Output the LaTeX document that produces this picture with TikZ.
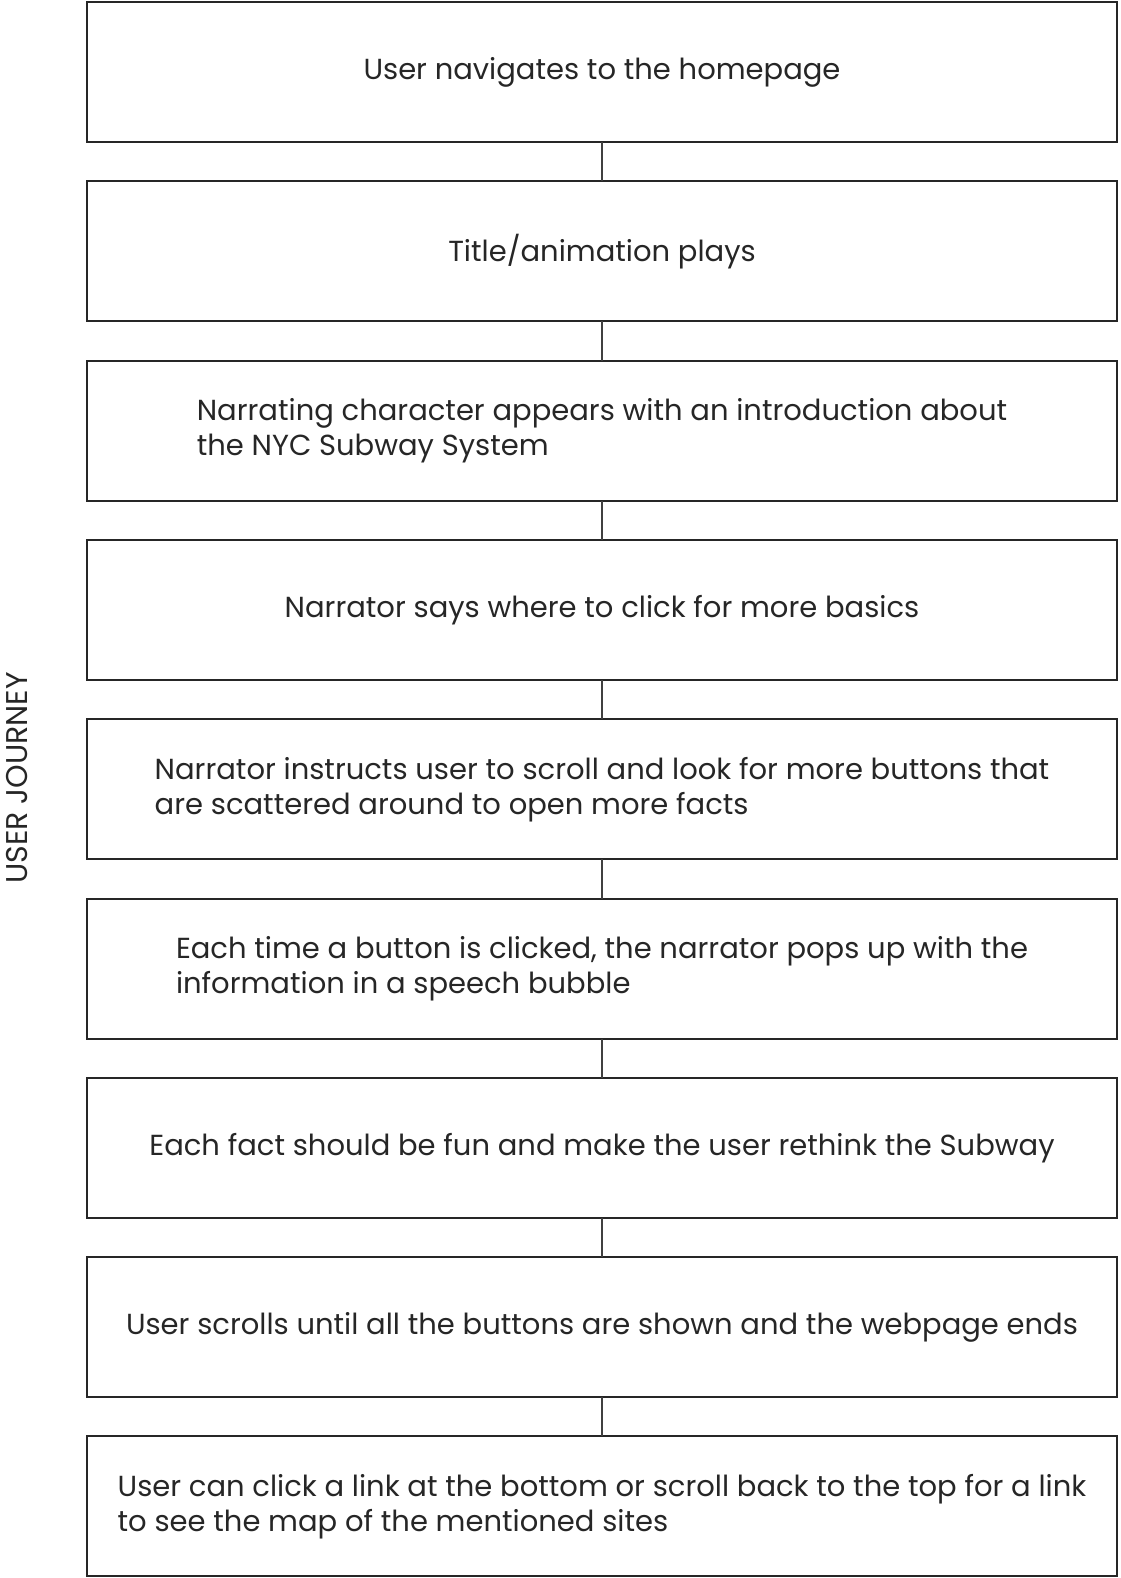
\documentclass[tikz,border=0pt]{standalone}
\usepackage{fontspec}
\setmainfont{Poppins}
\usepackage{tikz}
\usetikzlibrary{positioning}

\tikzset{
    stepbox/.style={draw=black!85, line width=1pt, outer sep=0pt, minimum width=515pt, minimum height=70pt, inner sep=0pt, align=left, text=black!85, font=\fontsize{14.5}{17.5}\selectfont},
    link/.style={draw=black!75, line width=0.75pt}
}

\begin{document}
\begin{tikzpicture}[x=0.5pt, y=-0.5pt]
        % Sayfa sinirlari
        \useasboundingbox (0,0) rectangle (1120,1578);

        % Kutular
        \node[stepbox] (s1) at (602,72) {User navigates to the homepage};
        \node[stepbox, below=19.65pt of s1] (s2) {Title/animation plays};
        \node[stepbox, below=19.65pt of s2] (s3) {Narrating character appears with an introduction about\\the NYC Subway System};
        \node[stepbox, below=19.65pt of s3] (s4) {Narrator says where to click for more basics};
        \node[stepbox, below=19.65pt of s4] (s5) {Narrator instructs user to scroll and look for more buttons that\\are scattered around to open more facts};
        \node[stepbox, below=19.65pt of s5] (s6) {Each time a button is clicked, the narrator pops up with the\\information in a speech bubble};
        \node[stepbox, below=19.65pt of s6] (s7) {Each fact should be fun and make the user rethink the Subway};
        \node[stepbox, below=19.65pt of s7] (s8) {User scrolls until all the buttons are shown and the webpage ends};
        \node[stepbox, below=19.65pt of s8] (s9) {User can click a link at the bottom or scroll back to the top for a link\\to see the map of the mentioned sites};

        % Baglantilar
        \foreach \a/\b in {s1/s2, s2/s3, s3/s4, s4/s5, s5/s6, s6/s7, s7/s8, s8/s9}
            \draw[link] (\a.south) -- (\b.north);

        % Yan baslik
        \node[rotate=90, font=\fontsize{15}{17}\selectfont, text=black!85] (title) at (17,778) {USER JOURNEY};
    \end{tikzpicture}
\end{document}
